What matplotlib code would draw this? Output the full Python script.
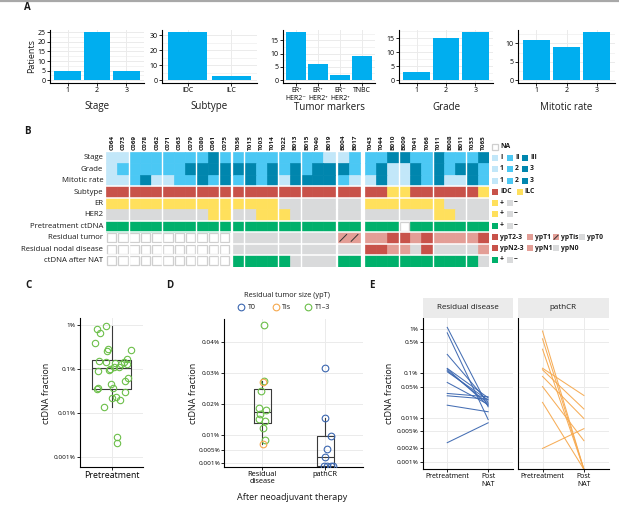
import matplotlib
matplotlib.use('Agg')
import matplotlib.pyplot as plt
import numpy as np
from matplotlib.patches import Rectangle
from matplotlib import cbook
from matplotlib.ticker import AutoMinorLocator

plt.rcParams['font.family'] = ['Open Sans', 'DejaVu Sans']

# ---------------- data ----------------
# Panel A
stage_cats = ['1', '2', '3']
stage_counts = [5, 25, 5]
subtype_cats = ['IDC', 'ILC']
subtype_counts = [32, 3]
marker_cats = ['ER\u207a\nHER2\u207b', 'ER\u207a\nHER2\u207a', 'ER\u207b\nHER2\u207a', 'TNBC']
marker_counts = [18, 6, 2, 9]
grade_cats = ['1', '2', '3']
grade_counts = [3, 15, 17]
mitotic_cats = ['1', '2', '3']
mitotic_counts = [11, 9, 13]

# Panel B
samples = ['C064', 'C073', 'C069', 'C078', 'C062', 'C071', 'C063', 'C079', 'C080', 'C061', 'C075',
           'T036', 'T013', 'T003', 'T014', 'T022', 'B013', 'B015', 'T040', 'B019',
           'B004', 'B017',
           'T043', 'T044', 'B010', 'B009', 'T041', 'T066', 'T011', 'B008', 'B011', 'T033', 'T065']
stage_row = [1, 1, 2, 2, 2, 2, 2, 2, 2, 3, 2, 2, 2, 2, 2, 2, 2, 2, 2, 1, 1, 2, 2, 2, 3, 3, 2, 2, 3, 2, 2, 2, 3]
grade_row = [1, 2, 2, 2, 2, 2, 2, 3, 3, 3, 3, 3, 3, 2, 3, 2, 3, 2, 3, 3, 3, 2, 2, 3, 1, 1, 3, 2, 3, 2, 3, 3, 2]
mitotic_row = [1, 1, 2, 3, 1, 1, 2, 2, 3, 2, 3, 2, 3, 2, 3, 1, 3, 3, 3, 3, 2, 1, 1, 3, 1, 1, 3, 2, 3, 1, 1, 3, 2]
subtype_row = ['IDC'] * 24 + ['ILC', 'ILC'] + ['IDC'] * 6 + ['ILC']
er_row = ['+'] * 15 + ['-'] * 7 + ['+'] * 7 + ['-'] * 4
her2_row = ['-'] * 9 + ['+', '+', '-', '-', '+', '+', '+'] + ['-'] * 12 + ['+', '+', '-', '-', '-']
pre_row = ['+'] * 25 + ['NA'] + ['+'] * 7
restumor_row = ['NA'] * 11 + ['ypT0'] * 9 + ['ypTis'] * 2 + ['ypT1', 'ypT1', 'ypT2-3', 'ypT2-3', 'ypT1', 'ypT2-3',
                                                              'ypT1', 'ypT1', 'ypT1', 'ypT1', 'ypT2-3']
nodal_row = ['NA'] * 11 + ['ypN0'] * 11 + ['ypN2-3', 'ypN2-3', 'ypN1', 'ypN1', 'ypN0', 'ypN2-3',
                                           'ypN0', 'ypN0', 'ypN0', 'ypN0', 'ypN1']
after_row = ['NA'] * 11 + ['+'] * 5 + ['-'] * 4 + ['+'] * 12 + ['-']
row_names = ['Stage', 'Grade', 'Mitotic rate', 'Subtype', 'ER', 'HER2', 'Pretreatment ctDNA',
             'Residual tumor', 'Residual nodal disease', 'ctDNA after NAT']

# Panel C (ctDNA fraction, %)
pre_values = [0.95, 0.8, 0.65, 0.40, 0.28, 0.26, 0.27, 0.17, 0.155, 0.141, 0.134, 0.146, 0.129, 0.127,
              0.112, 0.112, 0.10, 0.091, 0.094, 0.064, 0.053, 0.046, 0.036, 0.035, 0.036, 0.030,
              0.023, 0.022, 0.0195, 0.0138, 0.0029, 0.0021]
pre_jitter = [-0.11, -0.27, -0.21, -0.32, -0.06, -0.08, 0.37, 0.30, -0.24, -0.10, 0.06, 0.23, 0.19, 0.29,
              0.05, 0.14, -0.03, -0.25, -0.05, 0.32, 0.25, -0.01, -0.26, -0.27, 0.03, 0.25, 0.08, 0.0,
              0.16, -0.14, 0.11, 0.10]

# Panel D (ctDNA fraction after NAT, %)
resid_values = [0.0455, 0.02735, 0.0271, 0.0243, 0.0186, 0.0180, 0.0169, 0.0152, 0.0145, 0.0124, 0.0083, 0.0071]
resid_ypT = ['T1-3', 'T1-3', 'Tis', 'T1-3', 'T1-3', 'T1-3', 'T1-3', 'T1-3', 'T1-3', 'T1-3', 'T1-3', 'Tis']
resid_jitter = [0.03, 0.03, 0.01, -0.01, -0.055, 0.055, -0.04, -0.055, 0.045, 0.015, 0.04, 0.015]
pcr_values = [0.0315, 0.0156, 0.0095, 0.0056, 0.0030, 0.0, 0.0, 0.0, 0.0]
pcr_ypT = ['T0'] * 9
pcr_jitter = [-0.01, -0.01, 0.10, 0.035, -0.01, -0.02, 0.035, 0.09, 0.125]

# Panel E (paired pre / post, %)
e_resid_pre = [1.09, 0.82, 0.267, 0.129, 0.125, 0.115, 0.108, 0.062, 0.035, 0.031, 0.019, 0.0027]
e_resid_post = [0.0175, 0.0090, 0.0223, 0.0279, 0.0187, 0.0209, 0.0248, 0.0198, 0.0294, 0.0260, 0.0135, 0.0076]
e_pcr_pre = [0.9, 0.6, 0.35, 0.13, 0.12, 0.085, 0.05, 0.022, 0.002]
e_pcr_post = [0.0, 0.0, 0.0, 0.0315, 0.0156, 0.0095, 0.0030, 0.0, 0.0056]

# ---------------- style ----------------
W, H = 619, 505
BAR = '#00AEEF'
GRID = '#EBEBEB'
C_LIGHT, C_MID, C_DARK = '#C2E7F9', '#4BC8F4', '#0086AE'
C_RED, C_YEL, C_GREY, C_GREEN, C_PINK = '#C8524A', '#FFE05C', '#D9DADB', '#00B06B', '#E39E96'
C_T0, C_TIS, C_T13 = '#3C67B0', '#F6A94F', '#6CBF4A'
TXT = '#1a1a1a'

fig = plt.figure(figsize=(W / 100, H / 100), dpi=100)


def px_axes(x0, y0, x1, y1):
    return fig.add_axes([x0 / W, 1 - y1 / H, (x1 - x0) / W, (y1 - y0) / H])


def style_axes(ax, labelsize=5):
    for s in ['top', 'right']:
        ax.spines[s].set_visible(False)
    for s in ['left', 'bottom']:
        ax.spines[s].set_color('black')
        ax.spines[s].set_linewidth(0.8)
    ax.tick_params(length=2, width=0.6, labelsize=labelsize, pad=1, colors='black')
    ax.set_axisbelow(True)


# ---------------- Panel A ----------------
a_specs = [
    ('Stage', stage_cats, stage_counts, [0, 5, 10, 15, 20, 25], 50, 144),
    ('Subtype', subtype_cats, subtype_counts, [0, 10, 20, 30], 162, 257),
    ('Tumor markers', marker_cats, marker_counts, [0, 5, 10, 15], 283, 375),
    ('Grade', grade_cats, grade_counts, [0, 5, 10, 15], 399, 493),
    ('Mitotic rate', mitotic_cats, mitotic_counts, [0, 5, 10], 518, 615),
]
for title, cats, vals, yt, x0, x1 in a_specs:
    ax = px_axes(x0, 30, x1, 82.5)
    style_axes(ax)
    xs = np.arange(len(cats))
    ax.bar(xs, vals, width=0.9, color=BAR, zorder=2)
    ax.set_xlim(-0.6, len(cats) - 0.4)
    m = max(vals)
    ax.set_ylim(-0.05 * m, 1.05 * m)
    ax.set_yticks(yt)
    ax.set_xticks(xs)
    ax.set_xticklabels(cats, fontsize=5, linespacing=1.3)
    ax.yaxis.set_minor_locator(AutoMinorLocator(2))
    ax.tick_params(which='minor', length=0)
    ax.grid(True, which='major', color=GRID, lw=0.7)
    ax.grid(True, which='minor', axis='y', color=GRID, lw=0.4)
    fig.text((x0 + x1) / 2 / W, 1 - 107 / H, title, ha='center', va='center', fontsize=7, color=TXT)
fig.text(32 / W, 1 - 56 / H, 'Patients', rotation=90, ha='center', va='center', fontsize=6.5, color=TXT)

# ---------------- Panel B ----------------
cmaps = [
    {1: C_LIGHT, 2: C_MID, 3: C_DARK},
    {1: C_LIGHT, 2: C_MID, 3: C_DARK},
    {1: C_LIGHT, 2: C_MID, 3: C_DARK},
    {'IDC': C_RED, 'ILC': C_YEL},
    {'+': C_YEL, '-': C_GREY},
    {'+': C_YEL, '-': C_GREY},
    {'+': C_GREEN, '-': C_GREY},
    {'ypT2-3': C_RED, 'ypT1': C_PINK, 'ypTis': C_PINK, 'ypT0': C_GREY},
    {'ypN2-3': C_RED, 'ypN1': C_PINK, 'ypN0': C_GREY},
    {'+': C_GREEN, '-': C_GREY},
]
rows = [stage_row, grade_row, mitotic_row, subtype_row, er_row, her2_row, pre_row,
        restumor_row, nodal_row, after_row]
gaps = {10: 0.25, 19: 0.25, 21: 0.4}
seps = [1, 4, 7, 9, 11, 14, 16, 24, 27, 30]
hx = []
off = 0.0
for i in range(len(samples)):
    hx.append(i + off)
    off += gaps.get(i, 0)
total_w = hx[-1] + 1

hm = px_axes(106, 152, 489, 266.5)
hm.set_xlim(0, total_w)
hm.set_ylim(len(rows), 0)
hm.axis('off')
for r, (vals, cm) in enumerate(zip(rows, cmaps)):
    for i, v in enumerate(vals):
        if v == 'NA':
            hm.add_patch(Rectangle((hx[i] + 0.08, r + 0.1), 0.84, 0.8, fc='white', ec='#CFCFCF', lw=0.9))
        else:
            c = cm[v]
            hm.add_patch(Rectangle((hx[i], r), 1, 1, fc=c, ec=c, lw=0.5))
            if v == 'ypTis':
                hm.plot([hx[i] + 0.2, hx[i] + 0.8], [r + 0.8, r + 0.2], color='#333333', lw=0.7)
for i in seps:
    hm.plot([hx[i] + 1, hx[i] + 1], [0, len(rows)], color='white', lw=1.0)
for r in [3, 4, 6, 7, 8, 9]:
    hm.plot([0, total_w], [r, r], color='white', lw=1.1)
for i, s in enumerate(samples):
    hm.text(hx[i] + 0.5, -0.18, s, rotation=90, ha='center', va='bottom', fontsize=4.6,
            weight='bold', color=TXT)
for r, nm in enumerate(row_names):
    hm.text(-0.25, r + 0.5, nm, ha='right', va='center', fontsize=5.6, color=TXT, weight='medium')

# ---------------- Panel C ----------------
axc = px_axes(80, 318, 143, 467)
style_axes(axc, labelsize=4.6)
axc.set_yscale('log')
axc.set_ylim(10 ** -3.23, 10 ** 0.16)
axc.set_xlim(0.4, 1.6)
st = cbook.boxplot_stats(np.log10(pre_values))[0]
for k in ['med', 'q1', 'q3', 'whislo', 'whishi']:
    st[k] = 10 ** st[k]
st['fliers'] = []
axc.bxp([st], positions=[1], widths=0.73, showfliers=False, showcaps=False,
        boxprops=dict(color='#3a3a3a', lw=0.8), medianprops=dict(color='#3a3a3a', lw=0.8),
        whiskerprops=dict(color='#3a3a3a', lw=0.8), manage_ticks=False)
axc.plot(1 + np.array(pre_jitter), pre_values, 'o', mfc='none', mec=C_T13, ms=4.6, mew=0.8, zorder=3)
axc.set_yticks([1, 0.1, 0.01, 0.001])
axc.set_yticklabels(['1%', '0.1%', '0.01%', '0.001%'])
axc.yaxis.set_minor_locator(matplotlib.ticker.NullLocator())
axc.set_xticks([1])
axc.set_xticklabels(['Pretreatment'], fontsize=6.3)
axc.grid(True, color=GRID, lw=0.7)
fig.text(46.7 / W, 1 - 393 / H, 'ctDNA fraction', rotation=90, ha='center', va='center', fontsize=6.5, color=TXT)

# ---------------- Panel D ----------------
axd = px_axes(224.3, 319, 363, 466.7)
style_axes(axd, labelsize=4.6)
axd.set_xlim(0.4, 2.6)
axd.set_ylim(-0.00027, 0.0475)
stats = cbook.boxplot_stats([resid_values, pcr_values])
axd.bxp(stats, positions=[1, 2], widths=0.27, showfliers=False, showcaps=False,
        boxprops=dict(color='#3a3a3a', lw=0.8), medianprops=dict(color='#3a3a3a', lw=0.8),
        whiskerprops=dict(color='#3a3a3a', lw=0.8), manage_ticks=False)
ypT_col = {'T0': C_T0, 'Tis': C_TIS, 'T1-3': C_T13}
for pos, vals, jit, typ in [(1, resid_values, resid_jitter, resid_ypT), (2, pcr_values, pcr_jitter, pcr_ypT)]:
    for v, j, t in zip(vals, jit, typ):
        axd.plot(pos + j, v, 'o', mfc='none', mec=ypT_col[t], ms=4.8, mew=0.8, zorder=3)
axd.set_yticks([0.001, 0.005, 0.01, 0.02, 0.03, 0.04])
axd.set_yticklabels(['0.001%', '0.005%', '0.01%', '0.02%', '0.03%', '0.04%'])
axd.set_xticks([1, 2])
axd.set_xticklabels(['Residual\ndisease', 'pathCR'], fontsize=5.3, linespacing=1.1)
axd.grid(True, color=GRID, lw=0.7)
fig.text(193 / W, 1 - 393 / H, 'ctDNA fraction', rotation=90, ha='center', va='center', fontsize=6.5, color=TXT)
fig.text(292 / W, 1 - 497 / H, 'After neoadjuvant therapy', ha='center', va='center', fontsize=6.5, color=TXT)

# ---------------- Panel E ----------------
E_MIN, E_MAX = 10 ** -3.17, 10 ** 0.256
e_specs = [('Residual disease', e_resid_pre, e_resid_post, C_T0, 422.7, 512.7, True),
           ('pathCR', e_pcr_pre, e_pcr_post, C_TIS, 517.7, 608.7, False)]
for title, pre, post, col, x0, x1, showy in e_specs:
    ax = px_axes(x0, 317.7, x1, 469.3)
    style_axes(ax, labelsize=4.6)
    ax.set_yscale('log')
    ax.set_ylim(E_MIN, E_MAX)
    ax.set_xlim(0.4, 2.6)
    for a, b in zip(pre, post):
        b_plot = b if b > 0 else E_MIN
        ax.plot([1, 2], [a, b_plot], color=col, lw=0.75, alpha=0.95, clip_on=True)
    ax.set_yticks([1, 0.5, 0.1, 0.05, 0.01, 0.005, 0.002, 0.001])
    ax.yaxis.set_minor_locator(matplotlib.ticker.NullLocator())
    if showy:
        ax.set_yticklabels(['1%', '0.5%', '0.1%', '0.05%', '0.01%', '0.005%', '0.002%', '0.001%'])
    else:
        ax.set_yticklabels([])
        ax.tick_params(axis='y', length=0)
    ax.set_xticks([1, 2])
    ax.set_xticklabels(['Pretreatment', 'Post\nNAT'], fontsize=5, linespacing=1.2)
    ax.grid(True, color=GRID, lw=0.7)
fig.text(390 / W, 1 - 393 / H, 'ctDNA fraction', rotation=90, ha='center', va='center', fontsize=6.5, color=TXT)

# ---------------- overlay (letters, legends, strips) ----------------
ov = fig.add_axes([0, 0, 1, 1])
ov.set_xlim(0, W)
ov.set_ylim(H, 0)
ov.axis('off')
ov.set_facecolor('none')
ov.plot([0, W], [0.6, 0.6], color='#A8A8A8', lw=1.6)
for lt, x, y in [('A', 27, 7), ('B', 27.5, 131.5), ('C', 28, 285), ('D', 169.5, 285), ('E', 371.5, 285)]:
    ov.text(x, y, lt, ha='center', va='center', fontsize=7, weight='bold', color=TXT)

# strips for E
for title, x0, x1 in [('Residual disease', 422.7, 512.7), ('pathCR', 517.7, 608.7)]:
    ov.add_patch(Rectangle((x0, 298), x1 - x0, 19.7, fc='#EBEBEB', ec='none'))
    ov.text((x0 + x1) / 2, 307.8, title, ha='center', va='center', fontsize=5.8, color=TXT)

# legend for D
ov.text(286.7, 295.7, 'Residual tumor size (ypT)', ha='center', va='center', fontsize=5.3, color=TXT)
for lab, col, x in [('T0', C_T0, 241), ('Tis', C_TIS, 275.7), ('T1\u20133', C_T13, 308)]:
    ov.plot(x, 307.3, 'o', mfc='none', mec=col, ms=4.8, mew=0.8)
    ov.text(x + 6.5, 307.3, lab, ha='left', va='center', fontsize=5, color=TXT)

# legend for B
SQ = 6.0


def leg_sq(x, y, col, hatch=False, na=False):
    if na:
        ov.add_patch(Rectangle((x, y - SQ / 2), SQ, SQ, fc='white', ec='#CFCFCF', lw=0.9))
    else:
        ov.add_patch(Rectangle((x, y - SQ / 2), SQ, SQ, fc=col, ec='none'))
    if hatch:
        ov.plot([x + 1, x + SQ - 1], [y + SQ / 2 - 1, y - SQ / 2 + 1], color='#333333', lw=0.7)


def leg_txt(x, y, s):
    ov.text(x, y, s, ha='left', va='center', fontsize=4.9, weight='bold', color=TXT)


leg_sq(492, 146.7, None, na=True)
leg_txt(500, 146.7, 'NA')
row_y = [157.5, 169, 180.5, 191.5, 203, 213.5, 225.5, 237.3, 248.3, 260]
for k, labs in [(0, ['I', 'II', 'III']), (1, ['1', '2', '3']), (2, ['1', '2', '3'])]:
    for j, (lab, col) in enumerate(zip(labs, [C_LIGHT, C_MID, C_DARK])):
        leg_sq(492 + 15 * j, row_y[k], col)
        leg_txt(500 + 15 * j, row_y[k], lab)
leg_sq(492, row_y[3], C_RED)
leg_txt(500, row_y[3], 'IDC')
leg_sq(516.7, row_y[3], C_YEL)
leg_txt(524.7, row_y[3], 'ILC')
for k, pc in [(4, C_YEL), (5, C_YEL), (6, C_GREEN), (9, C_GREEN)]:
    leg_sq(492, row_y[k], pc)
    leg_txt(500, row_y[k], '+')
    leg_sq(506.7, row_y[k], C_GREY)
    leg_txt(514.2, row_y[k], '\u2212')
for lab, col, x, h in [('ypT2-3', C_RED, 492, False), ('ypT1', C_PINK, 526.7, False),
                       ('ypTis', C_PINK, 553, True), ('ypT0', C_GREY, 579, False)]:
    leg_sq(x, row_y[7], col, hatch=h)
    leg_txt(x + 8, row_y[7], lab)
for lab, col, x in [('ypN2-3', C_RED, 492), ('ypN1', C_PINK, 526.7), ('ypN0', C_GREY, 553)]:
    leg_sq(x, row_y[8], col)
    leg_txt(x + 8, row_y[8], lab)

fig.savefig('out.png', dpi=100)
